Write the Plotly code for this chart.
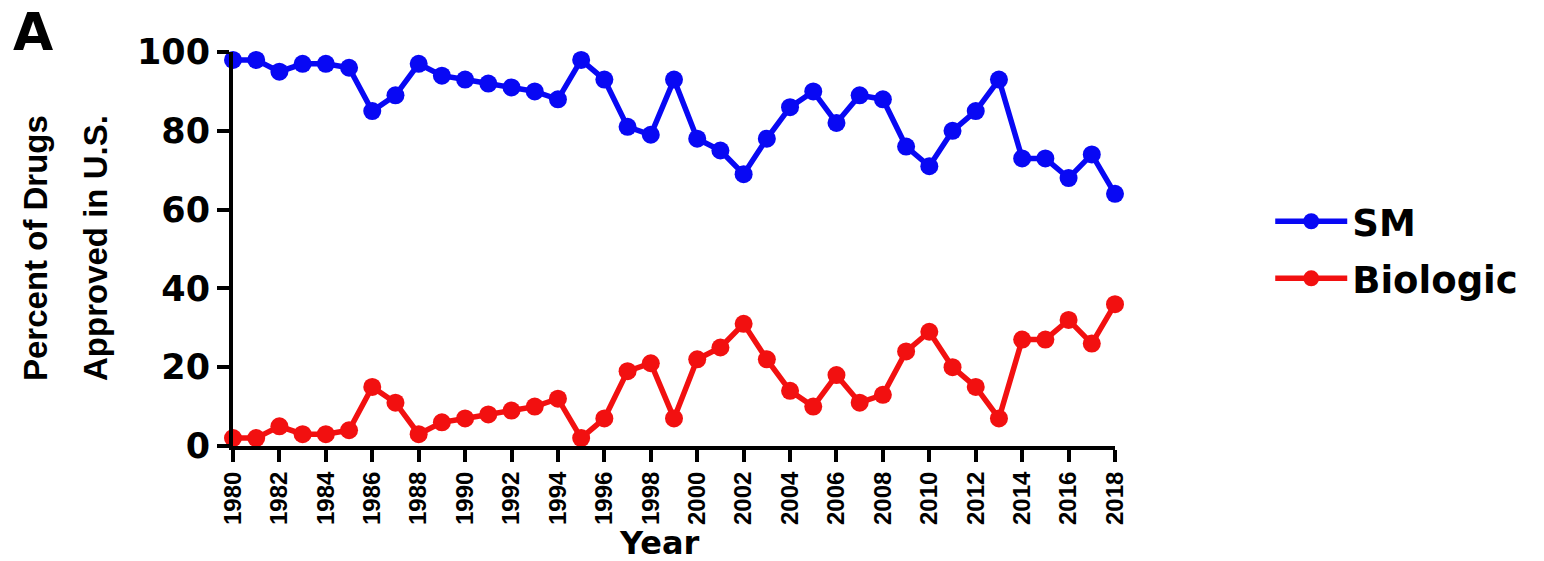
import plotly.graph_objects as go

years = list(range(1980, 2019))
sm_pct = [98, 98, 95, 97, 97, 96, 85, 89, 97, 94, 93, 92, 91, 90, 88, 98, 93, 81, 79, 93,
          78, 75, 69, 78, 86, 90, 82, 89, 88, 76, 71, 80, 85, 93, 73, 73, 68, 74, 64]
bio_pct = [2, 2, 5, 3, 3, 4, 15, 11, 3, 6, 7, 8, 9, 10, 12, 2, 7, 19, 21, 7,
           22, 25, 31, 22, 14, 10, 18, 11, 13, 24, 29, 20, 15, 7, 27, 27, 32, 26, 36]
y_ticks = [0, 20, 40, 60, 80, 100]
x_ticks = list(range(1980, 2019, 2))

BLUE = "#0808f4"
RED = "#f21010"
ARIAL = "Liberation Sans, Arial, sans-serif"
WIDE = "DejaVu Sans, Liberation Sans, sans-serif"

fig = go.Figure()
fig.add_trace(go.Scatter(
    x=years, y=sm_pct, name="SM", mode="lines+markers", legendgroup="sm",
    line=dict(color=BLUE, width=5.5), marker=dict(color=BLUE, size=18),
    cliponaxis=False,
))
fig.add_trace(go.Scatter(
    x=years, y=bio_pct, name="Biologic", mode="lines+markers", legendgroup="bio",
    line=dict(color=RED, width=5.5), marker=dict(color=RED, size=18),
    cliponaxis=False,
))

fig.update_layout(
    width=1544, height=561,
    margin=dict(l=233, r=429, t=52, b=115),
    paper_bgcolor="white", plot_bgcolor="white",
    showlegend=True,
    legend=dict(
        x=1.176, y=0.648, xanchor="left", yanchor="top",
        font=dict(family=WIDE, size=37, color="black", weight="bold"),
        itemwidth=72, tracegroupgap=6, traceorder="grouped",
        bgcolor="rgba(0,0,0,0)",
    ),
    xaxis=dict(
        range=[1980, 2018], tickvals=x_ticks, ticktext=[str(v) for v in x_ticks],
        tickangle=-90, ticks="outside", ticklen=12, tickwidth=4, tickcolor="black",
        showline=True, linewidth=4, linecolor="black", showgrid=False, zeroline=False,
        tickfont=dict(family=ARIAL, size=24, color="black", weight="bold"),
    ),
    yaxis=dict(
        range=[0, 100], tickvals=y_ticks, ticks="outside", ticklen=12, tickwidth=4,
        tickcolor="black", showline=True, linewidth=4, linecolor="black",
        showgrid=False, zeroline=False,
        tickfont=dict(family=WIDE, size=35, color="black", weight="bold"),
    ),
    annotations=[
        dict(text="Percent of Drugs", textangle=-90, xref="paper", yref="paper",
             x=-0.2245, y=0.5025, xanchor="center", yanchor="middle", showarrow=False,
             font=dict(family=ARIAL, size=33, color="black", weight="bold")),
        dict(text="Approved in U.S.", textangle=-90, xref="paper", yref="paper",
             x=-0.1565, y=0.5025, xanchor="center", yanchor="middle", showarrow=False,
             font=dict(family=ARIAL, size=33, color="black", weight="bold")),
        dict(text="Year", xref="paper", yref="paper", x=0.484, y=-0.246,
             xanchor="center", yanchor="middle", showarrow=False,
             font=dict(family=WIDE, size=32, color="black", weight="bold")),
        dict(text="A", xref="paper", yref="paper", x=-0.252, y=1.051,
             xanchor="left", yanchor="middle", showarrow=False,
             font=dict(family=WIDE, size=52, color="black", weight="bold")),
    ],
)

fig.write_html("out.html")
